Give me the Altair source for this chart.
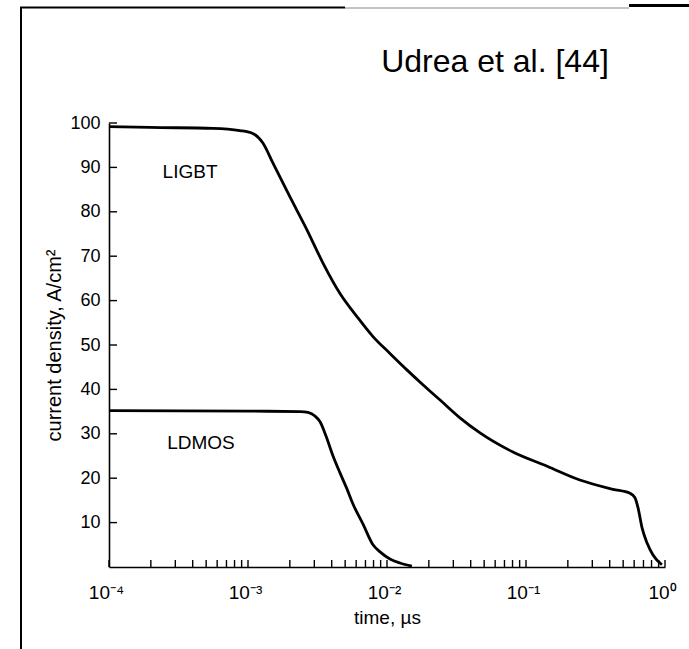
import altair as alt
import pandas as pd

# Turn-off transient of the two devices: current density (A/cm²) versus time (µs)
ligbt_time = [1.0e-4, 1.97e-4, 5.6e-4, 8.75e-4, 1.09e-3, 1.28e-3, 1.51e-3, 2.0e-3,
              2.66e-3, 3.47e-3, 4.59e-3, 6.08e-3, 7.93e-3, 1.05e-2, 1.39e-2, 1.82e-2,
              2.41e-2, 3.35e-2, 4.67e-2, 8.05e-2, 0.142, 0.244, 0.423, 0.560, 0.608,
              0.640, 0.684, 0.743, 0.820, 0.950]
ligbt_current = [99.2, 99.0, 98.8, 98.3, 97.6, 95.5, 91.0, 83.4,
                 75.9, 68.4, 61.6, 56.4, 51.9, 48.1, 44.4, 41.0,
                 37.6, 33.6, 30.2, 25.9, 22.7, 19.6, 17.5, 16.6, 15.6,
                 13.3, 8.8, 5.4, 2.7, 0.5]

ldmos_time = [1.0e-4, 1.03e-3, 2.37e-3, 2.70e-3, 3.03e-3, 3.30e-3, 3.64e-3, 4.09e-3,
              4.59e-3, 5.15e-3, 5.69e-3, 6.71e-3, 7.93e-3, 8.91e-3, 1.05e-2, 1.24e-2,
              1.51e-2]
ldmos_current = [35.2, 35.1, 35.0, 34.8, 34.0, 32.7, 29.5, 25.0,
                 21.2, 17.6, 14.2, 9.7, 5.0, 3.4, 1.8, 0.9,
                 0.2]

device_names = ["LIGBT", "LDMOS"]
label_time = [3.83e-4, 4.59e-4]
label_current = [89.0, 27.9]

x_decades = [1e-4, 1e-3, 1e-2, 1e-1, 1.0]
x_exponents = [-4, -3, -2, -1, 0]
x_tick_labels = ["10⁻⁴", "10⁻³", "10⁻²", "10⁻¹", "10⁰"]
minor_multipliers = [1, 2, 3, 4, 5, 6, 7, 8, 9]
y_tick_values = [10, 20, 30, 40, 50, 60, 70, 80, 90, 100]

W, H = 556, 444
FONT = "Liberation Sans"

curves = pd.concat([
    pd.DataFrame({"time": ligbt_time, "current": ligbt_current, "device": "LIGBT", "order": range(len(ligbt_time))}),
    pd.DataFrame({"time": ldmos_time, "current": ldmos_current, "device": "LDMOS", "order": range(len(ldmos_time))}),
])
labels = pd.DataFrame({"time": label_time, "current": label_current, "device": device_names})
x_minor = pd.DataFrame({"time": [d * m for d in x_decades[:-1] for m in minor_multipliers] + [x_decades[-1]]})
y_ticks = pd.DataFrame({"current": y_tick_values})

# decade labels keyed by exponent
label_expr = ("{" + ", ".join(f"'{e}': '{t}'" for e, t in zip(x_exponents, x_tick_labels))
              + "}[toString(round(log(datum.value) / LN10))]")

x_scale = alt.Scale(type="log", domain=[1e-4, 1.0])
y_scale = alt.Scale(domain=[0, 100])

x_axis = alt.Axis(values=x_decades, labelExpr=label_expr, ticks=False, grid=False,
                  domainColor="black", domainWidth=1.6, labelFont=FONT, labelFontSize=19,
                  labelColor="black", labelPadding=16, labelOffset=-3, labelFlush=False,
                  labelOverlap=False, title="time, µs", titleFont=FONT,
                  titleFontSize=19, titleFontWeight="normal", titleColor="black", titlePadding=6)
y_axis = alt.Axis(values=y_tick_values, ticks=False, grid=False, domainColor="black",
                  domainWidth=1.6, labelFont=FONT, labelFontSize=18, labelColor="black",
                  labelPadding=9, title="current density, A/cm²", titleFont=FONT,
                  titleFontSize=20, titleFontWeight="normal", titleColor="black", titlePadding=5)

lines = alt.Chart(curves).mark_line(color="black", strokeWidth=2.8, interpolate="monotone").encode(
    x=alt.X("time:Q", scale=x_scale, axis=x_axis),
    y=alt.Y("current:Q", scale=y_scale, axis=y_axis),
    detail="device:N",
    order="order:Q",
)

device_text = alt.Chart(labels).mark_text(font=FONT, fontSize=19, color="black",
                                          align="center", baseline="middle").encode(
    x=alt.X("time:Q", scale=x_scale),
    y=alt.Y("current:Q", scale=y_scale),
    text="device:N",
)

# inward-pointing ticks on both axes
x_tick_marks = alt.Chart(x_minor).mark_rule(color="black", strokeWidth=1.4).encode(
    x=alt.X("time:Q", scale=x_scale),
    y=alt.value(H),
    y2=alt.value(H - 7),
)
y_tick_marks = alt.Chart(y_ticks).mark_rule(color="black", strokeWidth=1.4).encode(
    y=alt.Y("current:Q", scale=y_scale),
    x=alt.value(0),
    x2=alt.value(8),
)

one_row = pd.DataFrame({"title": ["Udrea et al. [44]"]})

# chart title, set above the plot area
title_text = alt.Chart(one_row).mark_text(font=FONT, fontSize=32, color="black",
                                          align="center", baseline="middle").encode(
    x=alt.value(386), y=alt.value(-61), text="title:N")

# frame lines around the figure
frame_left = alt.Chart(one_row).mark_rule(color="black", strokeWidth=2).encode(
    x=alt.value(-88), y=alt.value(-116), y2=alt.value(H + 82))
frame_top = alt.Chart(one_row).mark_rule(color="black", strokeWidth=2).encode(
    x=alt.value(-89), x2=alt.value(236), y=alt.value(-115.5))
frame_top_thin = alt.Chart(one_row).mark_rule(color="#888888", strokeWidth=1).encode(
    x=alt.value(236), x2=alt.value(520), y=alt.value(-115))
frame_top_right = alt.Chart(one_row).mark_rule(color="black", strokeWidth=3).encode(
    x=alt.value(520), x2=alt.value(580), y=alt.value(-117.5))

chart = alt.layer(
    lines, device_text, x_tick_marks, y_tick_marks, title_text,
    frame_left, frame_top, frame_top_thin, frame_top_right,
).properties(
    width=W,
    height=H,
    autosize=alt.AutoSizeParams(type="none"),
    padding={"left": 109, "top": 123, "right": 24, "bottom": 82},
    background="white",
).configure_view(stroke=None)

chart.save("out.html", embed_options={"renderer": "svg", "actions": False})
